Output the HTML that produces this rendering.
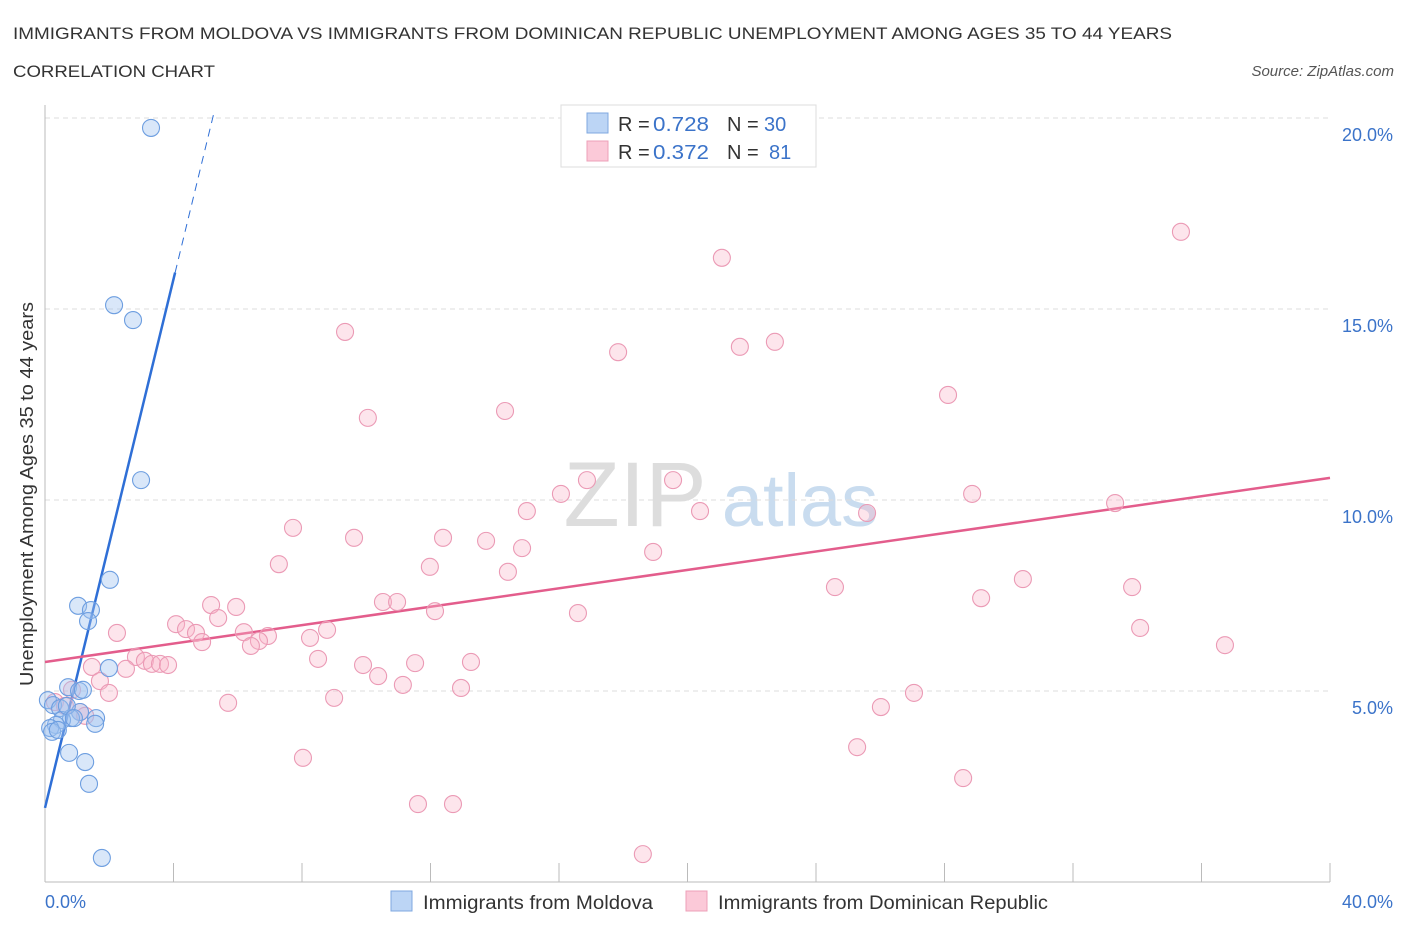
<!DOCTYPE html>
<html><head><meta charset="utf-8"><style>
body{margin:0;background:#fff;font-family:"Liberation Sans",sans-serif;}
svg text{font-family:"Liberation Sans",sans-serif;}
</style></head><body>
<svg id="chart" width="1406" height="930" xmlns="http://www.w3.org/2000/svg">
<text x="13" y="39" font-size="17" fill="#333" textLength="1159" lengthAdjust="spacingAndGlyphs">IMMIGRANTS FROM MOLDOVA VS IMMIGRANTS FROM DOMINICAN REPUBLIC UNEMPLOYMENT AMONG AGES 35 TO 44 YEARS</text>
<text x="13" y="77" font-size="17" fill="#333" textLength="202" lengthAdjust="spacingAndGlyphs">CORRELATION CHART</text>
<text x="1394" y="76" font-size="15" fill="#555" font-style="italic" text-anchor="end">Source: ZipAtlas.com</text>
<g>
<text x="635" y="526" font-size="92" fill="#ddd" font-family="Liberation Serif" text-anchor="middle">ZIP</text>
<text x="800" y="526" font-size="74" fill="#c9dcef" text-anchor="middle">atlas</text>
</g>
<g id="grid"></g>
<g id="axes"></g>
<g id="lines"></g>
<g id="pts"></g>
<text transform="translate(33,494) rotate(-90)" font-size="18" fill="#333" text-anchor="middle" textLength="384" lengthAdjust="spacingAndGlyphs">Unemployment Among Ages 35 to 44 years</text>
<text x="45" y="908" font-size="18" fill="#3b73c9">0.0%</text>
<text x="1393" y="908" font-size="18" fill="#3b73c9" text-anchor="end">40.0%</text>
<g>
<rect x="561" y="105" width="255" height="62" fill="#fff" stroke="#ddd"/>
<rect x="587" y="113" width="21" height="20" fill="#bcd5f5" stroke="#7fa8e0"/>
<rect x="587" y="141" width="21" height="20" fill="#fbc9d8" stroke="#eea0b8"/>
<text x="618" y="131" font-size="20" fill="#333">R = <tspan fill="#3b73c9" x="653" textLength="56" lengthAdjust="spacingAndGlyphs">0.728</tspan><tspan x="727">N = </tspan><tspan fill="#3b73c9" x="764">30</tspan></text>
<text x="618" y="159" font-size="20" fill="#333">R = <tspan fill="#3b73c9" x="653" textLength="56" lengthAdjust="spacingAndGlyphs">0.372</tspan><tspan x="727">N = </tspan><tspan fill="#3b73c9" x="769">81</tspan></text>
</g>
<g>
<rect x="391" y="891" width="21" height="20" fill="#bcd5f5" stroke="#7fa8e0"/>
<text x="423" y="909" font-size="19" fill="#333" textLength="230" lengthAdjust="spacingAndGlyphs">Immigrants from Moldova</text>
<rect x="686" y="891" width="21" height="20" fill="#fbc9d8" stroke="#eea0b8"/>
<text x="718" y="909" font-size="19" fill="#333" textLength="330" lengthAdjust="spacingAndGlyphs">Immigrants from Dominican Republic</text>
</g>
</svg>
<script>
const yTicks=[5,10,15,20];
const yTickLabels=["5.0%","10.0%","15.0%","20.0%"];
const xTicks=[0,4,8,12,16,20,24,28,32,36,40];
const moldovaX=[3.30,2.15,2.74,2.99,2.02,1.03,1.43,1.34,1.99,0.72,1.06,1.18,0.09,0.25,0.47,1.09,1.59,0.81,0.53,0.34,0.16,0.22,1.56,0.68,0.75,1.25,1.37,1.77,0.90,0.40];
const moldovaY=[19.74,15.10,14.71,10.52,7.91,7.23,7.12,6.83,5.60,5.10,5.00,5.03,4.76,4.63,4.55,4.45,4.29,4.29,4.24,4.11,4.03,3.93,4.14,4.61,3.38,3.14,2.57,0.63,4.29,3.98];
const domX=[35.36,21.07,9.34,17.84,21.63,22.72,28.11,10.05,14.32,16.06,16.87,19.55,28.86,33.31,15.00,20.39,25.59,7.72,9.62,12.39,13.73,14.85,18.93,7.28,11.98,14.41,30.44,24.59,33.84,29.14,10.52,10.96,5.17,5.95,12.14,16.59,5.39,4.08,4.39,4.70,4.89,2.24,6.19,6.94,6.66,6.41,8.25,8.78,34.09,36.73,8.50,9.90,11.52,13.26,2.83,3.11,3.33,3.58,3.83,1.46,2.52,10.37,11.14,12.95,1.71,1.99,27.05,9.00,5.70,26.02,0.84,0.31,0.62,1.09,1.25,25.28,8.03,28.58,11.61,12.70,18.61];
const domY=[17.02,16.34,14.40,13.87,14.01,14.14,12.75,12.15,12.33,10.16,10.52,10.52,10.16,9.92,9.71,9.71,9.66,9.27,9.01,9.01,8.93,8.74,8.64,8.32,8.25,8.12,7.93,7.72,7.72,7.43,7.33,7.33,7.25,7.20,7.09,7.04,6.91,6.75,6.62,6.52,6.28,6.52,6.54,6.44,6.31,6.18,6.39,6.60,6.65,6.20,5.84,5.68,5.73,5.76,5.89,5.79,5.71,5.71,5.68,5.63,5.58,5.39,5.16,5.08,5.26,4.95,4.95,4.82,4.69,4.58,5.03,4.71,4.61,4.45,4.35,3.53,3.25,2.72,2.04,2.04,0.73];
const moldovaFit=[1.94,3.46];
const domFit=[5.76,0.1205];
const NS="http://www.w3.org/2000/svg";
const sx=v=>45+v*32.125, sy=v=>882-v*38.2;
function mk(tag,attrs,parent){const e=document.createElementNS(NS,tag);for(const k in attrs)e.setAttribute(k,attrs[k]);document.getElementById(parent).appendChild(e);return e;}
yTicks.forEach((t,i)=>{
 const g=mk('line',{x1:45,x2:1330,y1:sy(t),y2:sy(t),stroke:'#ddd','stroke-dasharray':'5,4'},'grid');
 
 
 const l=mk('text',{x:1393,y:sy(t)+23,'font-size':18,fill:'#3b73c9','text-anchor':'end'},'grid');
 l.textContent=yTickLabels[i];
 
 
});
const ax=mk('line',{x1:45,x2:1330,y1:882,y2:882,stroke:'#bbb'},'axes');


const ay=mk('line',{x1:45,x2:45,y1:105,y2:882,stroke:'#bbb'},'axes');


xTicks.forEach(t=>{
 const e=mk('line',{x1:sx(t),x2:sx(t),y1:863,y2:882,stroke:'#bbb'},'axes');
 
 
});
const xEnd=(20-moldovaFit[0])/moldovaFit[1]*1.01, xSolid=4.05;
let b1=mk('line',{x1:sx(0),y1:sy(moldovaFit[0]),x2:sx(xSolid),y2:sy(moldovaFit[0]+moldovaFit[1]*xSolid),stroke:'#2f6fd6','stroke-width':2.5},'lines');


let b2=mk('line',{x1:sx(xSolid),y1:sy(moldovaFit[0]+moldovaFit[1]*xSolid),x2:sx(xEnd),y2:sy(moldovaFit[0]+moldovaFit[1]*xEnd),stroke:'#2f6fd6','stroke-width':1,'stroke-dasharray':'8,6'},'lines');


let p1=mk('line',{x1:sx(0),y1:sy(domFit[0]),x2:sx(40),y2:sy(domFit[0]+domFit[1]*40),stroke:'#e35d8c','stroke-width':2.5},'lines');


domX.forEach((x,i)=>{
 const c=mk('circle',{cx:sx(x),cy:sy(domY[i]),r:8.5,fill:'rgba(248,180,200,0.35)',stroke:'#eb9ab5','stroke-width':1.1},'pts');
 
 
});
moldovaX.forEach((x,i)=>{
 const c=mk('circle',{cx:sx(x),cy:sy(moldovaY[i]),r:8.5,fill:'rgba(160,195,240,0.4)',stroke:'#6d9ee0','stroke-width':1.1},'pts');
 
 
});
</script>
</body></html>
